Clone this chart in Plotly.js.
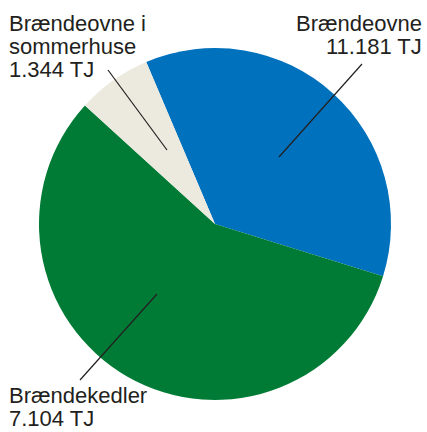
<!DOCTYPE html>
<html><head><meta charset="utf-8">
<script src="https://cdn.plot.ly/plotly-3.0.1.min.js"></script>
<style>html,body{margin:0;padding:0;background:#fff}#chart{width:427px;height:432px}</style>
</head><body><div id="chart"></div>
<script>
// Slices in drawing order (clockwise from the blue one)
const sliceNames = ["Brændeovne", "Brændekedler", "Brændeovne i sommerhuse"];
const sliceValues = [7104, 11181, 1344];
const sliceColors = ["#0071bc", "#007b35", "#ece9df"];
// Label lines as printed in the picture
const labelBlue = ["Brændeovne", "11.181 TJ"];
const labelGreen = ["Brændekedler", "7.104 TJ"];
const labelBeige = ["Brændeovne i", "sommerhuse", "1.344 TJ"];

const W = 427, H = 432;
const px = x => x / W, py = y => 1 - y / H;
const font = {family: "Liberation Sans, Arial, sans-serif", size: 22, color: "#231f20"};
const lineH = 23;

const annotations = [];
function addLines(lines, x, firstBaseline, anchor) {
  lines.forEach((t, i) => {
    annotations.push({text: t, xref: "paper", yref: "paper", x: px(x), y: py(firstBaseline + i * lineH),
      xanchor: anchor, yanchor: "bottom", showarrow: false, font: font, borderpad: 0});
  });
}
const baseOff = 5;
addLines(labelBlue, 423, 32 + baseOff, "right");
addLines(labelBeige, 8, 32 + baseOff, "left");
addLines(labelGreen, 8, 404 + baseOff, "left");

const seg = (x0, y0, x1, y1) => ({type: "line", xref: "paper", yref: "paper",
  x0: px(x0), y0: py(y0), x1: px(x1), y1: py(y1), line: {color: "#231f20", width: 1.2}});

const data = [{
  type: "pie", labels: sliceNames, values: sliceValues, sort: false,
  direction: "clockwise", rotation: -23,
  marker: {colors: sliceColors, line: {width: 0}},
  textinfo: "none", hoverinfo: "none",
  domain: {x: [px(215 - 176), px(215 + 176)], y: [py(224 + 176), py(224 - 176)]}
}];
const layout = {
  width: W, height: H, margin: {l: 0, r: 0, t: 0, b: 0},
  paper_bgcolor: "#fff", showlegend: false,
  annotations: annotations,
  shapes: [seg(362, 64, 279, 157), seg(108, 70, 167, 150), seg(80, 380, 157, 294)]
};
Plotly.newPlot("chart", data, layout, {displayModeBar: false, staticPlot: true});
</script></body></html>
